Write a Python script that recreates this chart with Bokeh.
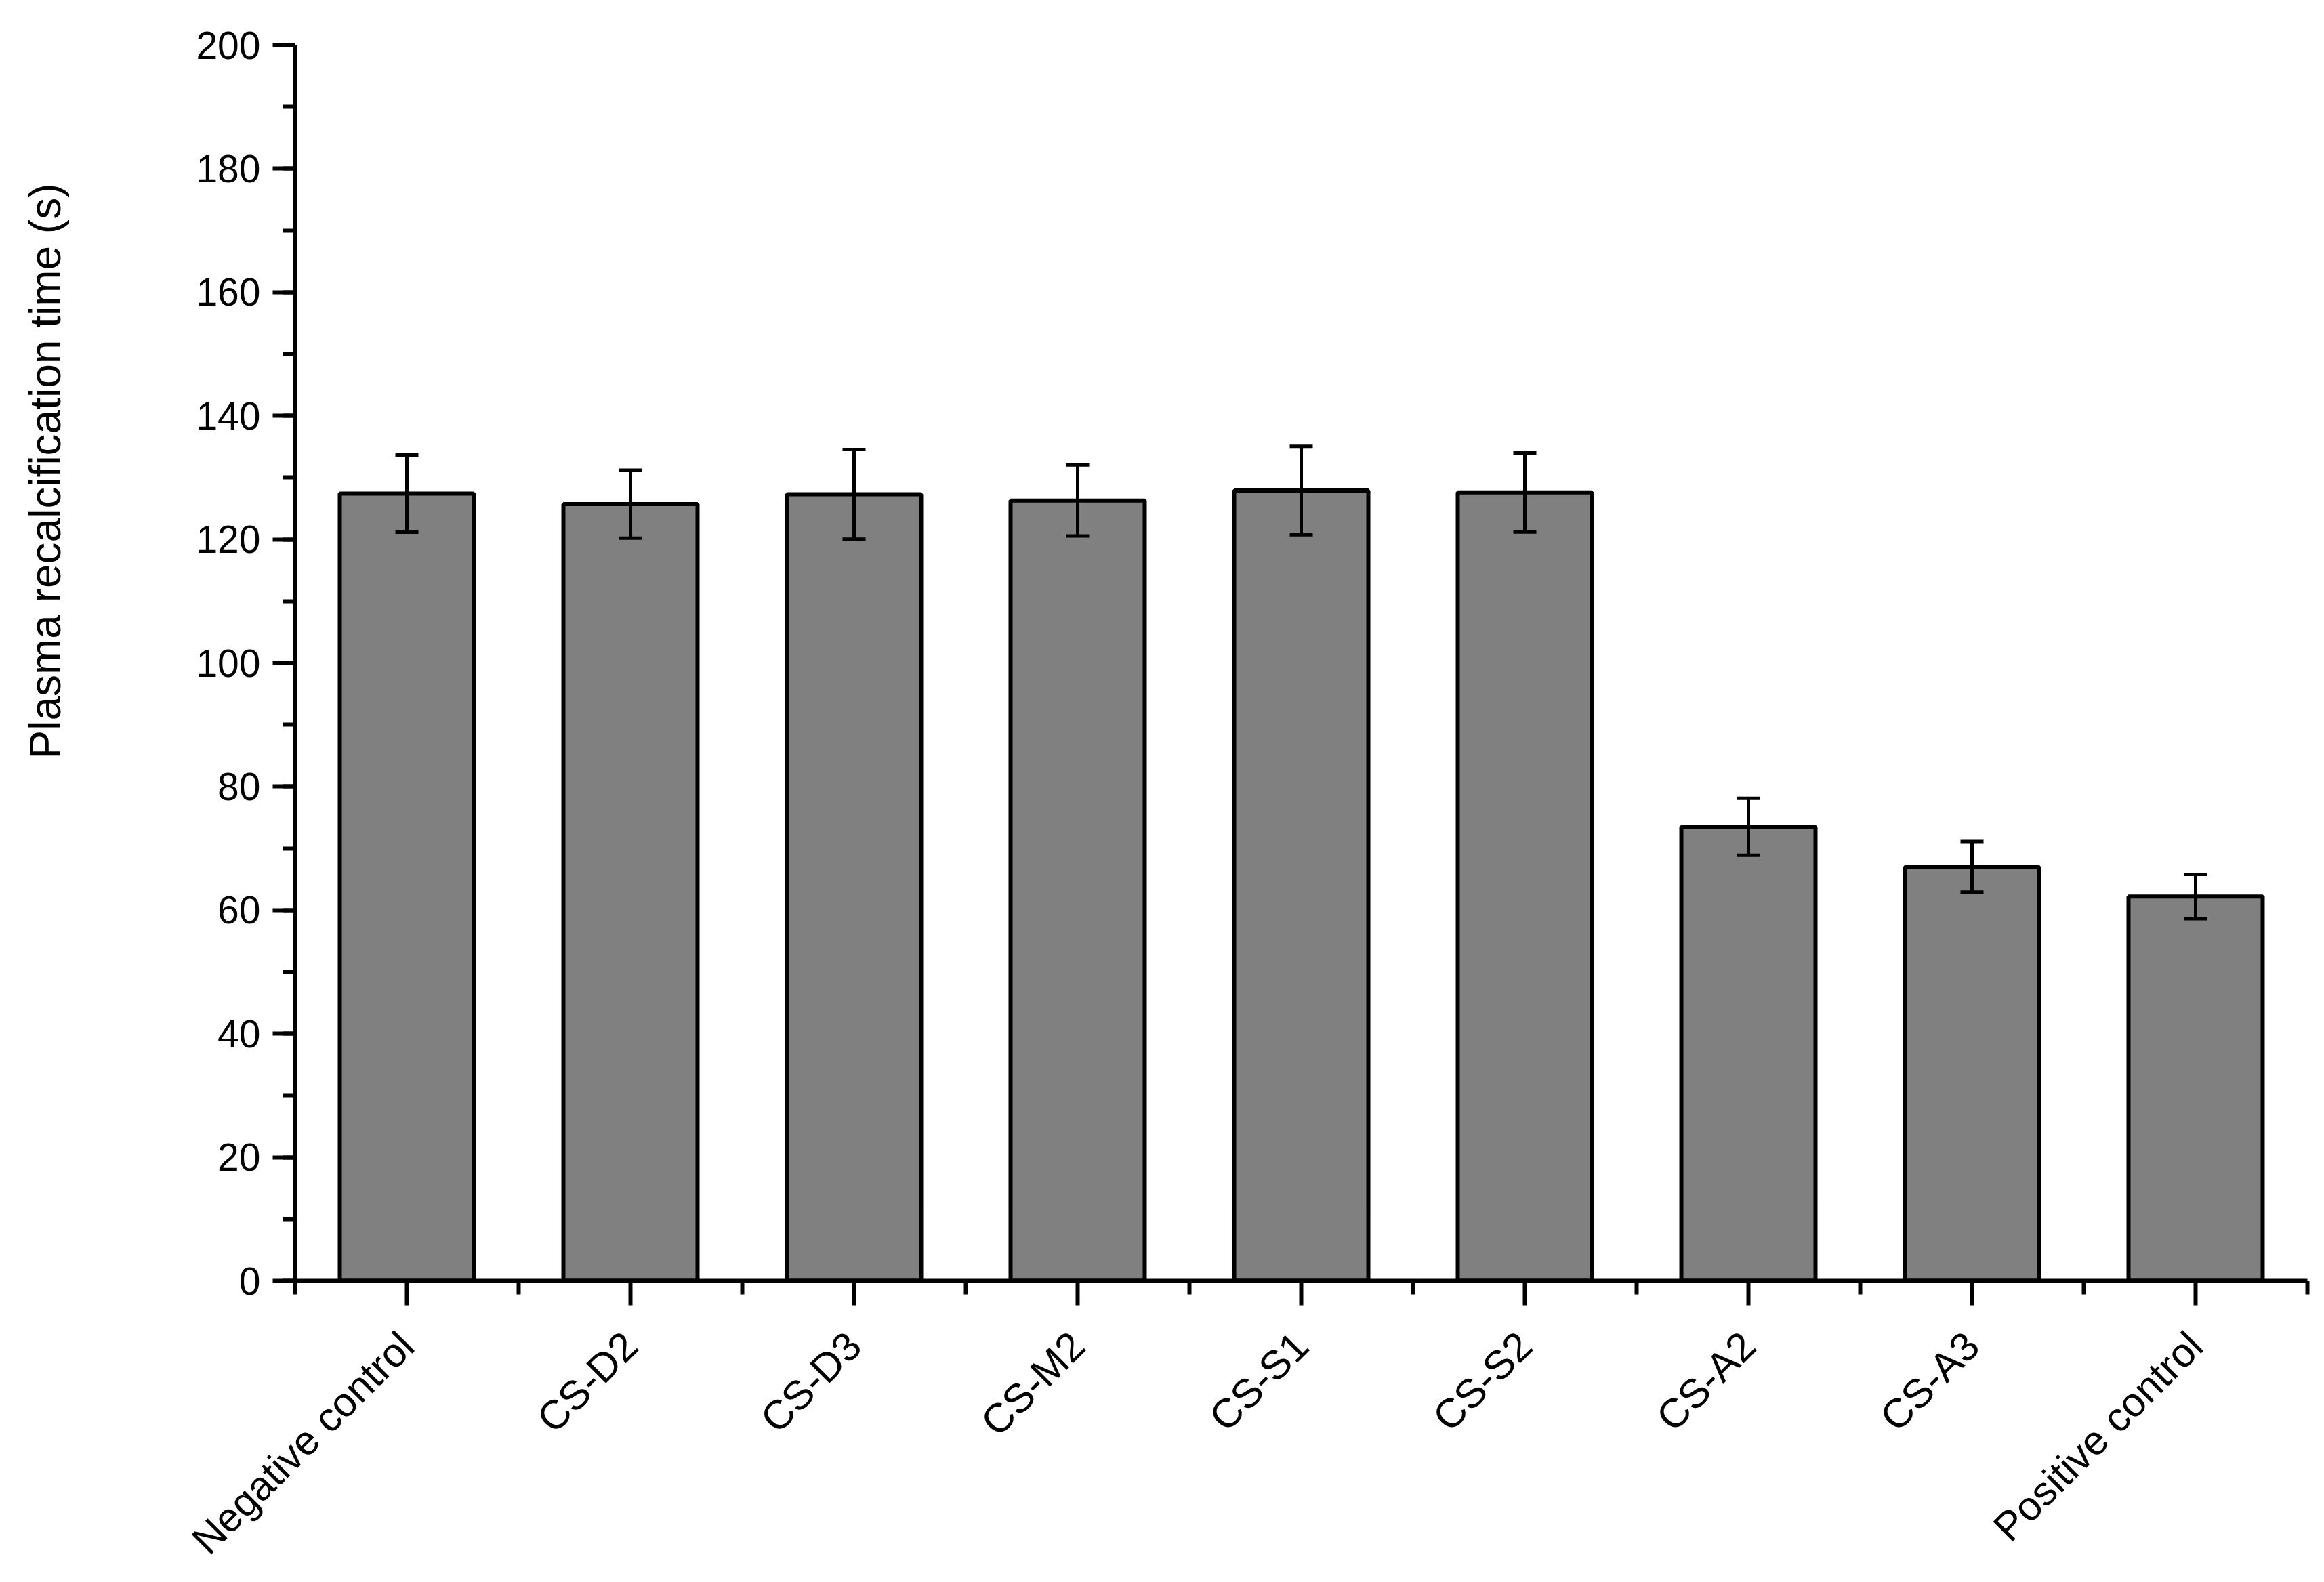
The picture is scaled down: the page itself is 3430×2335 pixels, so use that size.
import math
from bokeh.plotting import figure
from bokeh.models import (ColumnDataSource, Range1d, FixedTicker, Whisker,
                          TeeHead, Title)
from bokeh.embed import file_html
from bokeh.resources import INLINE

# ---- data ----
categories = ["Negative control", "CS-D2", "CS-D3", "CS-M2", "CS-S1",
              "CS-S2", "CS-A2", "CS-A3", "Positive control"]
means = [127.4, 125.7, 127.3, 126.3, 127.9, 127.6, 73.5, 67.0, 62.2]
sds = [6.25, 5.5, 7.25, 5.75, 7.15, 6.4, 4.6, 4.1, 3.6]
y_ticks = [0, 20, 40, 60, 80, 100, 120, 140, 160, 180, 200]
y_minor = [10 * i for i in range(21)]
y_title = "Plasma recalcification time (s)"

# ---- layout constants ----
FONT = "Liberation Sans"
n = len(categories)
xpos = [i + 0.5 for i in range(n)]
bounds = [i for i in range(n + 1)]

src = ColumnDataSource(dict(
    x=xpos, top=means,
    upper=[m + s for m, s in zip(means, sds)],
    lower=[m - s for m, s in zip(means, sds)],
    name=categories,
))

p = figure(frame_width=2970, frame_height=1824,
           x_range=Range1d(0, n), y_range=Range1d(0, 200),
           output_backend="svg", toolbar_location=None,
           min_border_left=435, min_border_right=20,
           min_border_top=66, min_border_bottom=380,
           background_fill_color="white", border_fill_color="white")
p.outline_line_color = None
p.xgrid.visible = False
p.ygrid.visible = False

p.vbar(x="x", top="top", bottom=0, width=0.6, source=src,
       fill_color="#808080", line_color="black", line_width=6)

head_u = TeeHead(size=34, line_width=5, line_color="black")
head_l = TeeHead(size=34, line_width=5, line_color="black")
wh = Whisker(source=src, base="x", upper="upper", lower="lower",
             dimension="height", line_width=5, line_color="black",
             upper_head=head_u, lower_head=head_l, level="overlay")
p.add_layout(wh)

# x axis
xa = p.xaxis[0]
xa.ticker = FixedTicker(ticks=xpos, minor_ticks=bounds)
xa.major_label_overrides = {x: c for x, c in zip(xpos, categories)}
xa.major_label_orientation = math.pi / 4
xa.axis_line_width = 6
xa.axis_line_color = "black"
xa.major_tick_line_width = 6
xa.minor_tick_line_width = 6
xa.major_tick_out = 36
xa.major_tick_in = 0
xa.minor_tick_out = 20
xa.minor_tick_in = 0
xa.major_label_text_font = FONT
xa.major_label_text_font_size = "60px"
xa.major_label_text_color = "black"
xa.major_label_standoff = 50

# y axis
ya = p.yaxis[0]
ya.ticker = FixedTicker(ticks=y_ticks, minor_ticks=y_minor)
ya.axis_line_width = 6
ya.axis_line_color = "black"
ya.major_tick_line_width = 6
ya.minor_tick_line_width = 6
ya.major_tick_out = 33
ya.major_tick_in = 0
ya.minor_tick_out = 18
ya.minor_tick_in = 0
ya.major_label_text_font = FONT
ya.major_label_text_font_size = "57px"
ya.major_label_text_color = "black"
ya.major_label_standoff = 18
# blank spacer label: pushes the (off-centre) title further left
ya.axis_label = " "
ya.axis_label_text_font_size = "10px"
ya.axis_label_standoff = 165

ytitle = Title(text=y_title, align="left", offset=770,
               vertical_align="bottom", standoff=10,
               text_font=FONT, text_font_size="64px",
               text_font_style="normal", text_color="black")
p.add_layout(ytitle, "left")

open("out.html", "w").write(file_html(p, INLINE))
